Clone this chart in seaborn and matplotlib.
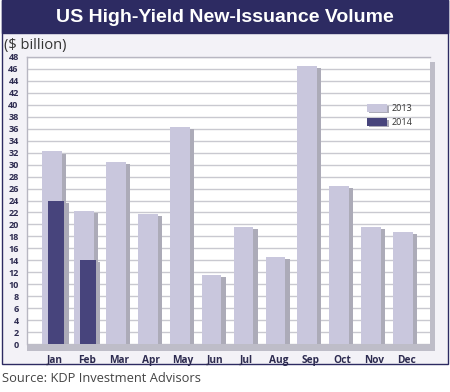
import numpy as np
import pandas as pd
import matplotlib
matplotlib.use("Agg")
import matplotlib.pyplot as plt
import matplotlib.patheffects as pe
from matplotlib.patches import Rectangle, Patch
import seaborn as sns

months = ["Jan", "Feb", "Mar", "Apr", "May", "Jun", "Jul", "Aug", "Sep", "Oct", "Nov", "Dec"]
vol_2013 = [32.2, 22.3, 30.4, 21.8, 36.3, 11.6, 19.6, 14.5, 46.5, 26.5, 19.5, 18.7]
vol_2014 = [24.0, 14.0]
yticks = list(range(0, 50, 2))

C13 = "#c9c7dd"
C14 = "#47447c"
SHADOW = "#acabb8"
NAVY = "#2d2b62"
PANEL = "#f3f2f7"
TXT = "#2d2b50"

sns.set_theme(style="white")
plt.rcParams["font.family"] = ["Open Sans", "DejaVu Sans"]

fig = plt.figure(figsize=(4.5, 3.92), dpi=100)
W, H = 450, 392

def fx(px):
    return px / W

def fy(py):
    return 1 - py / H

# outer panel
fig.patches.append(Rectangle((fx(2), fy(364)), fx(446), 364 / H, transform=fig.transFigure,
                             facecolor=PANEL, edgecolor=NAVY, lw=1.0, zorder=0))
# title banner
fig.patches.append(Rectangle((fx(2), fy(33)), fx(446), 33 / H, transform=fig.transFigure,
                             facecolor=NAVY, edgecolor=NAVY, lw=1.0, zorder=1))
fig.text(fx(225), fy(17), "US High-Yield New-Issuance Volume", ha="center", va="center",
         color="white", fontsize=14, fontweight="bold", family=["Liberation Sans", "DejaVu Sans"])
fig.text(fx(4), fy(45), "($ billion)", ha="left", va="center", color="#333333", fontsize=10.5)
fig.text(fx(2), fy(378), "Source: KDP Investment Advisors", ha="left", va="center",
         color="#444444", fontsize=9.3)

# floor and right shadow of chart box
fig.patches.append(Rectangle((fx(27), fy(351)), fx(408), 7 / H, transform=fig.transFigure,
                             facecolor="#bebdc8", edgecolor="none", zorder=1))
fig.patches.append(Rectangle((fx(430), fy(351)), fx(5), (351 - 62) / H, transform=fig.transFigure,
                             facecolor="#bebdc8", edgecolor="none", zorder=1))

ax = fig.add_axes([fx(27), fy(344), fx(403), (344 - 57) / H])
ax.set_facecolor("white")
ax.set_zorder(2)

x13 = np.arange(len(months), dtype=float)
x14 = np.arange(len(vol_2014), dtype=float) + 0.14

sns.barplot(x=x13, y=vol_2013, native_scale=True, width=0.62, color=C13, saturation=1,
            ax=ax, zorder=3)
sns.barplot(x=x14, y=vol_2014, native_scale=True, width=0.5, color=C14, saturation=1,
            ax=ax, zorder=4)

for p in ax.patches:
    p.set_edgecolor("none")
    p.set_path_effects([pe.SimplePatchShadow(offset=(3, -1.5), shadow_rgbFace=SHADOW, alpha=1.0),
                        pe.Normal()])

ax.set_xlim(-0.78, 11.84)
ax.set_ylim(0, 48)
ax.set_yticks(yticks)
ax.set_yticklabels([str(t) for t in yticks])
ax.set_xticks(x13 + 0.1)
ax.set_xticklabels(months)
ax.yaxis.grid(True, color="#c9c9d0", lw=1.0, zorder=0)
ax.set_axisbelow(True)
ax.tick_params(axis="y", length=0, pad=6, labelsize=6.5, labelcolor=TXT)
ax.tick_params(axis="x", length=0, pad=8, labelsize=7.3, labelcolor=TXT)
for lab in ax.get_xticklabels() + ax.get_yticklabels():
    lab.set_fontweight("bold")
for s in ["top", "left"]:
    ax.spines[s].set_color("#b8b7c2")
    ax.spines[s].set_linewidth(1.0)
for s in ["right", "bottom"]:
    ax.spines[s].set_visible(False)
ax.set_xlabel("")
ax.set_ylabel("")

handles = [Patch(facecolor=C13, edgecolor="none", label="2013",
                 path_effects=[pe.SimplePatchShadow(offset=(1.5, -1), shadow_rgbFace=SHADOW, alpha=1), pe.Normal()]),
           Patch(facecolor=C14, edgecolor="none", label="2014",
                 path_effects=[pe.SimplePatchShadow(offset=(1.5, -1), shadow_rgbFace=SHADOW, alpha=1), pe.Normal()])]
leg = ax.legend(handles=handles, loc="upper left", bbox_to_anchor=(0.843, 0.835), frameon=False,
                fontsize=6.5, handlelength=2.2, handleheight=0.9, handletextpad=0.6,
                labelspacing=0.55, borderpad=0, borderaxespad=0)
for t in leg.get_texts():
    t.set_color("#333333")

fig.savefig("out.png", dpi=100)
